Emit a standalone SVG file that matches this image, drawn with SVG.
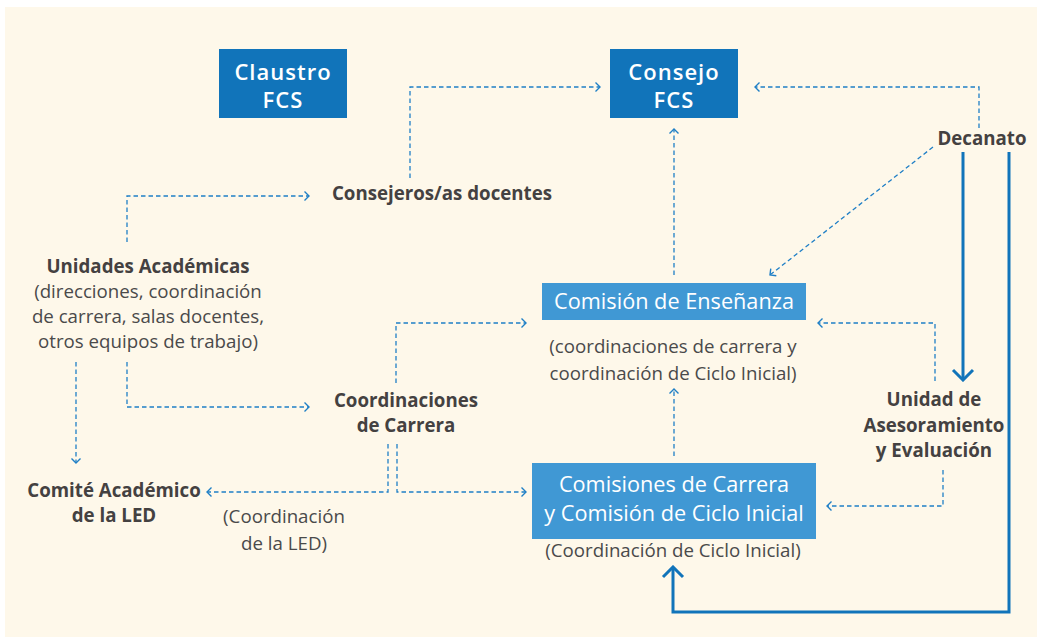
<svg xmlns="http://www.w3.org/2000/svg" width="1037" height="637" viewBox="0 0 1037 637">
<style>
.bg{fill:#FEF8EA}
.dk{fill:#1174BA}
.lt{fill:#4098D4}
.bt{font-family:"Open Sans","Liberation Sans",sans-serif;font-size:21.7px;font-weight:500;fill:#fff;text-anchor:middle}
.tt{font-family:"Open Sans","Liberation Sans",sans-serif;font-size:22px;font-weight:600;fill:#fff;text-anchor:middle;letter-spacing:1px}
.bl{font-family:"Open Sans","Liberation Sans",sans-serif;font-size:18.7px;font-weight:bold;fill:#444141;text-anchor:middle}
.rg{font-family:"Open Sans","Liberation Sans",sans-serif;font-size:18.7px;fill:#4a4a4a;text-anchor:middle}
.ds{fill:none;stroke:#1f7fc6;stroke-width:1.3;stroke-dasharray:4.5 3;marker-end:url(#a)}
.sl{fill:none;stroke:#1174BA;stroke-width:3;marker-end:url(#b)}
</style>
<defs>
<marker id="a" markerUnits="userSpaceOnUse" markerWidth="8" markerHeight="12" viewBox="0 0 8 12" refX="6" refY="6" orient="auto">
<path d="M1.5,1.5 L6,6 L1.5,10.5" fill="none" stroke="#1f7fc6" stroke-width="1.4"/>
</marker>
<marker id="b" markerUnits="userSpaceOnUse" markerWidth="14" markerHeight="24" viewBox="0 0 14 24" refX="12" refY="12" orient="auto">
<path d="M2,2 L12,12 L2,22" fill="none" stroke="#1174BA" stroke-width="3"/>
</marker>
</defs>
<rect class="bg" x="5" y="7" width="1032" height="630"/>
<g id="connectors">
<path class="ds" d="M410,178 V87 H600"/>
<path class="ds" d="M979,128 V87 H755"/>
<path class="ds" d="M933,147 L770,275"/>
<path class="ds" d="M674,275 V129"/>
<path class="sl" d="M963,152 V380"/>
<path class="sl" d="M1009,152 V612 H673 V567"/>
<path class="ds" d="M674,456 V389"/>
<path class="ds" d="M935,381 V323 H818"/>
<path class="ds" d="M943,470 V506 H827"/>
<path class="ds" d="M127,242 V196 H309"/>
<path class="ds" d="M76,362 V463"/>
<path class="ds" d="M127,362 V407 H309"/>
<path class="ds" d="M396,383 V323 H526"/>
<path class="ds" d="M388,444 V492 H207"/>
<path class="ds" d="M397,444 V492 H526"/>
</g>
<g id="claustro">
<rect class="dk" x="219" y="49" width="128" height="69"/>
<text class="tt" x="283" y="80">Claustro</text>
<text class="tt" x="283" y="108">FCS</text>
</g>
<g id="consejo">
<rect class="dk" x="610" y="49" width="128" height="69"/>
<text class="tt" x="674" y="80">Consejo</text>
<text class="tt" x="674" y="108">FCS</text>
</g>
<g id="decanato">
<text class="bl" x="982" y="145">Decanato</text>
</g>
<g id="consejeros">
<text class="bl" x="442" y="200">Consejeros/as docentes</text>
</g>
<g id="unidades">
<text class="bl" x="148" y="273">Unidades Académicas</text>
<text class="rg" x="148" y="298">(direcciones, coordinación</text>
<text class="rg" x="148" y="323">de carrera, salas docentes,</text>
<text class="rg" x="148" y="348">otros equipos de trabajo)</text>
</g>
<g id="coordinaciones">
<text class="bl" x="406" y="407">Coordinaciones</text>
<text class="bl" x="406" y="432">de Carrera</text>
</g>
<g id="comite">
<text class="bl" x="114" y="497">Comité Académico</text>
<text class="bl" x="114" y="522">de la LED</text>
<text class="rg" x="284" y="523">(Coordinación</text>
<text class="rg" x="284" y="550">de la LED)</text>
</g>
<g id="ensenanza">
<rect class="lt" x="542" y="283" width="264" height="37"/>
<text class="bt" x="674" y="309">Comisión de Enseñanza</text>
<text class="rg" x="673" y="353">(coordinaciones de carrera y</text>
<text class="rg" x="673" y="380">coordinación de Ciclo Inicial)</text>
</g>
<g id="comisiones">
<rect class="lt" x="532" y="463" width="284" height="76"/>
<text class="bt" x="674" y="492">Comisiones de Carrera</text>
<text class="bt" x="674" y="521">y Comisión de Ciclo Inicial</text>
<text class="rg" x="673" y="557">(Coordinación de Ciclo Inicial)</text>
</g>
<g id="unidad">
<text class="bl" x="934" y="406">Unidad de</text>
<text class="bl" x="934" y="432">Asesoramiento</text>
<text class="bl" x="934" y="457">y Evaluación</text>
</g>
</svg>
